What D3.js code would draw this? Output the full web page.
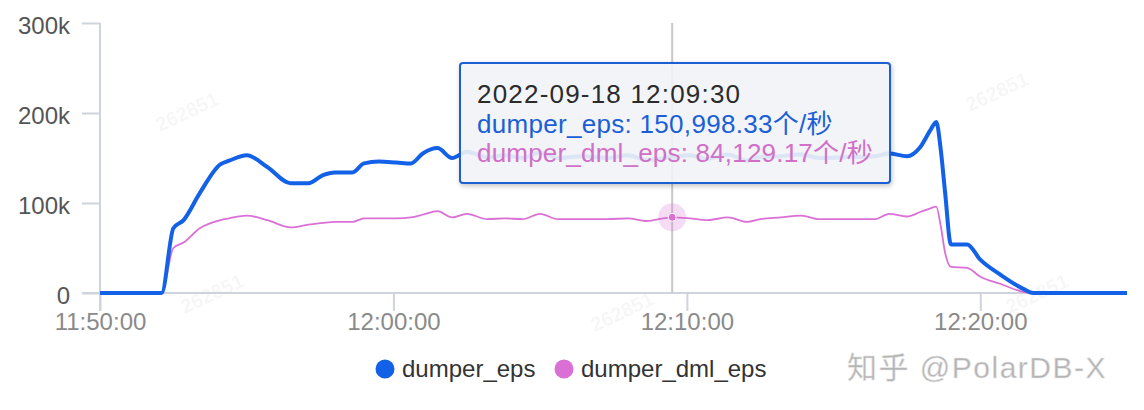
<!DOCTYPE html>
<html>
<head>
<meta charset="utf-8">
<script src="https://cdn.jsdelivr.net/npm/d3@7/dist/d3.min.js"></script>
<style>
  html, body { margin: 0; padding: 0; background: #fff; }
  svg { display: block; }
  text { font-family: "Liberation Sans", "Noto Sans CJK SC", sans-serif; }
</style>
</head>
<body>
<svg id="chart" width="1144" height="410"></svg>
<script>
// ---- data ----
const times = ["11:50:00","11:52:06","11:52:30","11:52:51","11:53:24","11:54:06","11:54:24","11:55:00","11:55:42","11:56:30",
  "11:57:06","11:57:36","11:58:00","11:58:36","11:59:00","11:59:30","12:00:06","12:00:36","12:01:00","12:01:30",
  "12:02:00","12:02:30","12:03:12","12:03:48","12:04:24","12:05:00","12:05:36","12:06:24","12:07:18","12:08:00",
  "12:08:36","12:09:30","12:10:06","12:10:42","12:11:24","12:12:03","12:12:30","12:13:12","12:13:54","12:14:30",
  "12:15:30","12:16:24","12:16:54","12:17:30","12:17:57","12:18:18","12:18:30","12:18:39","12:18:48","12:19:00",
  "12:19:33","12:20:00","12:20:42","12:21:30","12:21:48","12:25:00"];
const dumperEps = [0,0,72000,81000,111000,143000,147000,153000,140000,122000,
  122000,131000,134000,134000,144000,146000,145000,144000,155000,161000,
  150000,157000,151000,153000,150000,156000,150000,152000,150000,153000,
  148000,150998.33,153000,149000,154000,147000,151000,152000,154000,150000,
  151000,152000,155000,152000,162000,181000,190000,160000,112000,54000,
  54000,37000,20000,4000,0,0];
const dumperDmlEps = [0,0,50000,56000,72000,81000,83000,86000,81000,73000,
  76000,78000,79000,79000,83000,83000,83000,84000,87000,91000,
  84000,88000,82000,83000,82000,88000,82000,82000,82000,83000,
  80000,84129.17,83000,81000,84000,79000,82000,84000,86000,82000,
  82000,82000,88000,85000,90000,94000,96000,75000,45000,29000,
  28000,18000,10000,1000,0,0];
const seriesNames = ["dumper_eps", "dumper_dml_eps"];
const seriesColors = ["#1361e6", "#da70d6"];
const yTicks = [0, 100000, 200000, 300000];
const xTickLabels = ["11:50:00", "12:00:00", "12:10:00", "12:20:00"];
const hoverTime = "12:09:30";
const hoverDate = "2022-09-18";
const unit = "个/秒";

// ---- setup ----
const parse = d3.timeParse("%H:%M:%S");
const svg = d3.select("#chart");
const W = 1144, H = 410;
const x = d3.scaleTime().domain([parse("11:50:00"), parse("12:25:00")]).range([100, 1127]);
const y = d3.scaleLinear().domain([0, 300000]).range([293, 23]);
const axisColor = "#cfd3dc";

svg.append("rect").attr("width", W).attr("height", H).attr("fill", "#fff");

// faint watermarks
const wm = [[190,118],[1000,98],[215,300],[625,318],[1040,300],[560,140]];
svg.append("g").selectAll("text").data(wm).join("text")
  .attr("transform", d => `translate(${d[0]},${d[1]}) rotate(-25)`)
  .attr("text-anchor", "middle").attr("font-size", 20).attr("font-weight", "bold")
  .attr("fill", "#000").attr("opacity", 0.03).text("262851");

// y axis
const yAxis = svg.append("g").attr("transform", "translate(100,0)")
  .call(d3.axisLeft(y).tickValues(yTicks).tickSize(18).tickPadding(12)
    .tickFormat(d => d === 0 ? "0" : d3.format("~s")(d)));
yAxis.select(".domain").attr("stroke", axisColor).attr("stroke-width", 2)
  .attr("d", "M0,23V311");
yAxis.selectAll(".tick line").attr("stroke", axisColor).attr("stroke-width", 2);
yAxis.selectAll(".tick text").attr("fill", "#555").attr("font-size", 24)
  .attr("font-family", "'Liberation Sans', sans-serif").attr("dy", "0.42em");

// x axis
const xAxis = svg.append("g").attr("transform", "translate(0,293)")
  .call(d3.axisBottom(x).tickValues(xTickLabels.map(parse)).tickSize(18).tickPadding(2)
    .tickFormat(d3.timeFormat("%H:%M:%S")));
xAxis.select(".domain").attr("stroke", axisColor).attr("stroke-width", 2).attr("d", "M82,0H1127");
xAxis.selectAll(".tick line").attr("stroke", axisColor).attr("stroke-width", 2);
xAxis.selectAll(".tick text").attr("fill", "#8a8a8a").attr("font-size", 24)
  .attr("font-family", "'Liberation Sans', sans-serif");

// crosshair
const hx = x(parse(hoverTime));
svg.append("line").attr("x1", hx).attr("x2", hx).attr("y1", 23).attr("y2", 293)
  .attr("stroke", "#c8c8c8").attr("stroke-width", 2);

// lines
const pts = times.map(parse);
const line = d3.line().x((d, i) => x(pts[i])).y(d => y(d)).curve(d3.curveMonotoneX);
svg.append("path").datum(dumperDmlEps).attr("d", line).attr("fill", "none")
  .attr("stroke", seriesColors[1]).attr("stroke-width", 1.8);
svg.append("path").datum(dumperEps).attr("d", line).attr("fill", "none")
  .attr("stroke", seriesColors[0]).attr("stroke-width", 4).attr("stroke-linejoin", "round");

// highlight point
const hi = times.indexOf(hoverTime);
svg.append("circle").attr("cx", hx).attr("cy", y(dumperDmlEps[hi])).attr("r", 14)
  .attr("fill", seriesColors[1]).attr("opacity", 0.25);
svg.append("circle").attr("cx", hx).attr("cy", y(dumperDmlEps[hi])).attr("r", 4)
  .attr("fill", seriesColors[1]).attr("stroke", "#fff").attr("stroke-width", 1);
svg.append("circle").attr("cx", hx).attr("cy", y(dumperEps[hi])).attr("r", 4)
  .attr("fill", seriesColors[0]);

// tooltip
const defs = svg.append("defs");
const f = defs.append("filter").attr("id", "sh").attr("x", "-10%").attr("y", "-20%").attr("width", "130%").attr("height", "150%");
f.append("feDropShadow").attr("dx", 1).attr("dy", 2).attr("stdDeviation", 2.5).attr("flood-color", "#000").attr("flood-opacity", 0.25);
const tt = svg.append("g").attr("transform", "translate(460,63)");
tt.append("rect").attr("width", 430).attr("height", 120).attr("rx", 3)
  .attr("fill", "rgba(244,246,249,0.88)").attr("stroke", "#1b5ed2").attr("stroke-width", 2)
  .attr("filter", "url(#sh)");
const fmt = d3.format(",.2f");
const tlines = [
  {t: `${hoverDate} ${hoverTime}`, c: "#2b2b2b", ls: 1.2},
  {t: `${seriesNames[0]}: ${fmt(dumperEps[hi])}${unit}`, c: "#1a5fd6", ls: 0.3},
  {t: `${seriesNames[1]}: ${fmt(dumperDmlEps[hi])}${unit}`, c: "#d070c8", ls: 0.2}
];
tt.selectAll("text.tl").data(tlines).join("text").attr("class", "tl")
  .attr("x", 17).attr("y", (d, i) => 40 + i * 29.5)
  .attr("font-size", 26).attr("letter-spacing", d => d.ls).attr("fill", d => d.c).text(d => d.t);

// legend
const lg = svg.append("g");
const legX = [385, 564];
seriesNames.forEach((n, i) => {
  lg.append("circle").attr("cx", legX[i]).attr("cy", 369).attr("r", 9.5).attr("fill", seriesColors[i]);
  lg.append("text").attr("x", legX[i] + 17).attr("y", 377).attr("font-size", 24)
    .attr("fill", "#333").text(n);
});

// site watermark
svg.append("text").attr("x", 847).attr("y", 378).attr("font-size", 30).attr("letter-spacing", 1.5)
  .attr("fill", "#b4b4b4").attr("stroke", "#e6e6e6").attr("stroke-width", 0.5)
  .text("知乎 @PolarDB-X");
</script>
</body>
</html>
